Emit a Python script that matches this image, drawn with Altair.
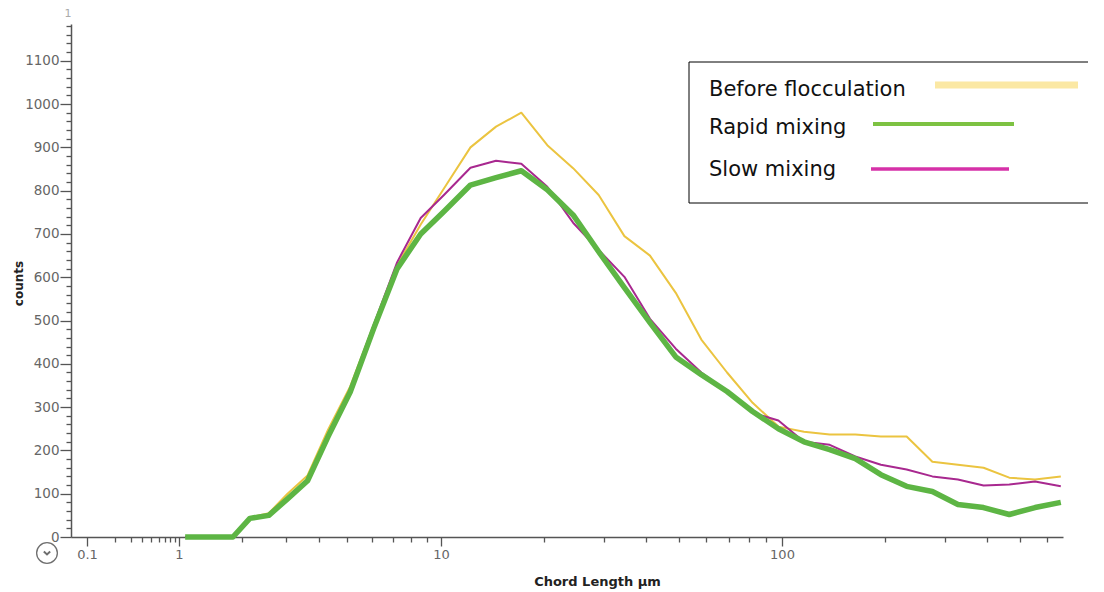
import altair as alt
import numpy as np
import pandas as pd

# ---- data ----
chord_um = [1.07, 1.28, 1.52, 1.81, 2.15, 2.56, 3.04, 3.62, 4.30, 5.12, 6.09, 7.24, 8.61,
            10.2, 12.2, 14.5, 17.2, 20.5, 24.4, 29.0, 34.5, 41.0, 48.8, 58.0, 69.0, 82.0,
            97.6, 116, 138, 164, 195, 232, 276, 328, 390, 464, 552, 657]
before_floc = [0, 0, 0, 0, 45, 55, 100, 142, 248, 348, 490, 628, 722, 805, 900, 948, 980,
               905, 852, 790, 695, 650, 564, 456, 380, 310, 255, 243, 237, 237, 232, 232,
               174, 167, 160, 137, 133, 140]
rapid_mix = [0, 0, 0, 0, 43, 50, 88, 130, 232, 335, 482, 620, 700, 752, 813, 830, 846,
             802, 744, 659, 576, 495, 416, 375, 336, 290, 250, 220, 202, 181, 144, 117,
             105, 75, 68, 52, 68, 80]
slow_mix = [0, 0, 0, 0, 42, 50, 90, 132, 238, 342, 490, 635, 737, 790, 853, 869, 862,
            809, 726, 663, 601, 504, 435, 380, 336, 287, 269, 220, 213, 186, 167, 156,
            140, 133, 119, 121, 128, 117]

series_names = ["Before flocculation", "Rapid mixing", "Slow mixing"]
line_colors = ["#EBC440", "#5DB544", "#A8288F"]
legend_colors = ["#FBE8A4", "#7DC242", "#D631A8"]

# tick positions (in µm) on the chord length axis
minor_um = ([0.1 * k for k in range(1, 10)] + [1.0 * k for k in range(1, 10)] +
            [10.0 * k for k in range(1, 10)] + [100.0 * k for k in range(1, 7)])
x_ticks = [float(np.log10(v)) for v in minor_um]
y_ticks = list(range(0, 1181, 20))

lx = np.log10(chord_um)
df_b = pd.DataFrame({"lx": lx, "counts": before_floc})
df_r = pd.DataFrame({"lx": lx, "counts": rapid_mix})
df_s = pd.DataFrame({"lx": lx, "counts": slow_mix})

# instrument-style chord-length axis (decades not equally wide)
x_scale = alt.Scale(
    type="linear",
    domain=[-1.174, -1, 0, float(np.log10(2)), float(np.log10(3)), float(np.log10(4)),
            float(np.log10(5)), 1, 2.824],
    range=[0, 16, 108, 171, 215, 248, 276, 370, 992],
    nice=False, zero=False,
)
y_scale = alt.Scale(domain=[0, 1185], nice=False, zero=False)

FONT = "DejaVu Sans"
x_axis = alt.Axis(
    values=x_ticks,
    labelExpr="abs(datum.value + 1) < 0.001 ? '0.1' : abs(datum.value) < 0.001 ? '1' : "
              "abs(datum.value - 1) < 0.001 ? '10' : abs(datum.value - 2) < 0.001 ? '100' : ''",
    title="Chord Length µm",
    grid=False,
    tickSize={"condition": {"test": "abs(datum.value - round(datum.value)) < 0.001", "value": 9},
              "value": 5},
    tickColor="#555", tickWidth=1.3, domainColor="#555", domainWidth=1.5,
    labelFont=FONT, labelFontSize=13, labelColor="#666", labelPadding=2,
    labelFlush=False, labelOverlap=False,
    titleFont=FONT, titleFontSize=13, titleFontWeight="bold", titleColor="#222",
    titleX=526, titleY=44, titleBaseline="middle",
)
y_axis = alt.Axis(
    values=y_ticks,
    labelExpr="datum.value % 100 == 0 ? datum.value : ''",
    title="counts",
    grid=False,
    tickSize={"condition": {"test": "datum.value % 100 == 0", "value": 11}, "value": 5},
    tickColor="#555", tickWidth=1.3, domainColor="#555", domainWidth=1.5,
    labelFont=FONT, labelFontSize=13.5, labelColor="#666", labelPadding=1,
    labelOverlap=False, labelFlush=False,
    titleFont=FONT, titleFontSize=12, titleFontWeight="bold", titleColor="#222",
    titleX=-53, titleY=259, titleAngle=-90, titleBaseline="middle", titleAlign="center",
)


def line_layer(df, color, width):
    return alt.Chart(df).mark_line(color=color, strokeWidth=width, strokeJoin="round").encode(
        x=alt.X("lx:Q", scale=x_scale, axis=x_axis),
        y=alt.Y("counts:Q", scale=y_scale, axis=y_axis),
    )


lines = [
    line_layer(df_b, line_colors[0], 2),
    line_layer(df_s, line_colors[2], 2),
    line_layer(df_r, line_colors[1], 5.5),
]

one = alt.Data(values=[{}])
BOX_L, BOX_R, BOX_T, BOX_B = 618, 1040, 38, 179

legend_parts = [
    alt.Chart(one).mark_rect(fill="white").encode(
        x=alt.value(BOX_L), x2=alt.value(BOX_R), y=alt.value(BOX_T), y2=alt.value(BOX_B)),
    alt.Chart(one).mark_rule(color="black", strokeWidth=1).encode(
        x=alt.value(BOX_L), x2=alt.value(BOX_R), y=alt.value(BOX_T)),
    alt.Chart(one).mark_rule(color="black", strokeWidth=1).encode(
        x=alt.value(BOX_L), x2=alt.value(BOX_R), y=alt.value(BOX_B)),
    alt.Chart(one).mark_rule(color="black", strokeWidth=1).encode(
        x=alt.value(BOX_L), y=alt.value(BOX_T), y2=alt.value(BOX_B)),
]
text_y = [72, 110, 152]
rule_x = [(864, 1007), (802, 943), (800, 938)]
rule_y = [61, 100, 145]
rule_w = [7, 4, 3.5]
for i, name in enumerate(series_names):
    legend_parts.append(
        alt.Chart(one).mark_text(text=name, font="DejaVu Sans", fontSize=21, color="#111",
                                 align="left", baseline="alphabetic").encode(
            x=alt.value(638), y=alt.value(text_y[i]))
    )
    legend_parts.append(
        alt.Chart(one).mark_rule(color=legend_colors[i], strokeWidth=rule_w[i]).encode(
            x=alt.value(rule_x[i][0]), x2=alt.value(rule_x[i][1]), y=alt.value(rule_y[i]))
    )

stray_label = alt.Chart(one).mark_text(text="1", font=FONT, fontSize=11, color="#aaa",
                                       align="center", baseline="middle").encode(
    x=alt.value(-3), y=alt.value(-10))

circle_btn = alt.Chart(one).mark_point(shape="circle", size=430, filled=False,
                                       stroke="#333", strokeWidth=1.3).encode(
    x=alt.value(-24), y=alt.value(529))
chevron = alt.Chart(one).mark_point(shape="M-1,-0.45L0,0.45L1,-0.45", size=40, filled=False,
                                    stroke="#333", strokeWidth=2).encode(
    x=alt.value(-24), y=alt.value(529))

chart = alt.layer(*lines, *legend_parts, stray_label, circle_btn, chevron).properties(
    width=992, height=513,
    autosize=alt.AutoSizeParams(type="none"),
    padding={"left": 63, "top": 16, "right": 25, "bottom": 55},
    background="white",
).configure_view(stroke=None)

chart.save("out.html", embed_options={"renderer": "svg", "actions": False})
